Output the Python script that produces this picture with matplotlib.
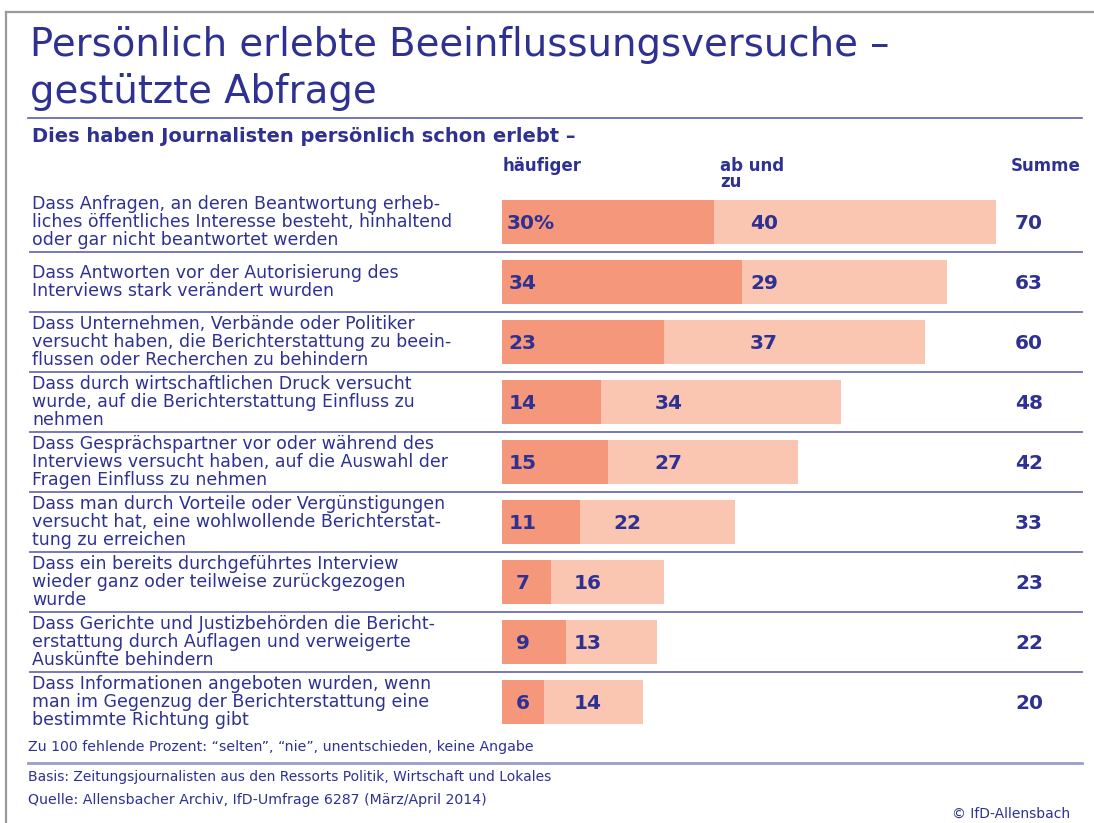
import matplotlib.pyplot as plt
from matplotlib.lines import Line2D

# data
labels = [
    "Dass Anfragen, an deren Beantwortung erheb-\nliches öffentliches Interesse besteht, hinhaltend\noder gar nicht beantwortet werden",
    "Dass Antworten vor der Autorisierung des\nInterviews stark verändert wurden",
    "Dass Unternehmen, Verbände oder Politiker\nversucht haben, die Berichterstattung zu beein-\nflussen oder Recherchen zu behindern",
    "Dass durch wirtschaftlichen Druck versucht\nwurde, auf die Berichterstattung Einfluss zu\nnehmen",
    "Dass Gesprächspartner vor oder während des\nInterviews versucht haben, auf die Auswahl der\nFragen Einfluss zu nehmen",
    "Dass man durch Vorteile oder Vergünstigungen\nversucht hat, eine wohlwollende Berichterstat-\ntung zu erreichen",
    "Dass ein bereits durchgeführtes Interview\nwieder ganz oder teilweise zurückgezogen\nwurde",
    "Dass Gerichte und Justizbehörden die Bericht-\nerstattung durch Auflagen und verweigerte\nAuskünfte behindern",
    "Dass Informationen angeboten wurden, wenn\nman im Gegenzug der Berichterstattung eine\nbestimmte Richtung gibt",
]
haeufiger = [30, 34, 23, 14, 15, 11, 7, 9, 6]
ab_und_zu = [40, 29, 37, 34, 27, 22, 16, 13, 14]
summe = [a + b for a, b in zip(haeufiger, ab_und_zu)]

# where the "ab und zu" numbers sit (layout only)
light_label_pos = [37.1, 37.1, 37.1, 23.6, 23.6, 17.7, 12.1, 12.1, 12.1]

BLUE = '#2e3192'
DARK = '#f4977a'
LIGHT = '#fac6b1'
W, H = 1094, 823

plt.rcParams['font.family'] = ['DejaVu Sans']
fig = plt.figure(figsize=(W / 100, H / 100), dpi=100)

def fx(x):
    return x / W

def fy(y):
    return 1 - y / H

# axes: x=0 at px 502, 7.057 px per percent, rows every 60 px starting at 222
px_per = (996 - 502) / 70
ax_left, ax_right = 502, 1082
ax_top, ax_bot = 192, 732
ax = fig.add_axes([fx(ax_left), fy(ax_bot), (ax_right - ax_left) / W, (ax_bot - ax_top) / H])
ax.set_xlim(0, (ax_right - ax_left) / px_per)
n = len(labels)
ax.set_ylim(n - 0.5, -0.5)
ax.axis('off')

rows = list(range(n))
ax.barh(rows, haeufiger, height=0.72, color=DARK, linewidth=0)
ax.barh(rows, ab_und_zu, left=haeufiger, height=0.72, color=LIGHT, linewidth=0)

ytr = ax.get_yaxis_transform()
label_x = (32 - ax_left) / (ax_right - ax_left)
sep_x0 = (30 - ax_left) / (ax_right - ax_left)
summe_x = (1029 - 502) / px_per
for i in rows:
    ax.text(label_x, i, labels[i], transform=ytr, ha='left', va='center',
            fontsize=12.5, color=BLUE, linespacing=1.02)
    if i == 0:
        ax.text(0.7, i + 0.03, f"{haeufiger[i]}%", ha='left', va='center', fontsize=14.5,
                fontweight='bold', color=BLUE)
    else:
        ax.text(2.9, i + 0.03, str(haeufiger[i]), ha='center', va='center', fontsize=14.5,
                fontweight='bold', color=BLUE)
    ax.text(light_label_pos[i], i + 0.03, str(ab_und_zu[i]), ha='center', va='center',
            fontsize=14.5, fontweight='bold', color=BLUE)
    ax.text(summe_x, i + 0.03, str(summe[i]), ha='center', va='center', fontsize=14.5,
            fontweight='bold', color=BLUE, clip_on=False)
    if i < n - 1:
        ax.plot([sep_x0, 1.0], [i + 0.5, i + 0.5], transform=ytr, color='#6b6db3',
                lw=1.3, clip_on=False)

# frame and rules
fig.add_artist(Line2D([fx(6), fx(6)], [fy(12), 0], color='#9a9a9a', lw=1.6))
fig.add_artist(Line2D([fx(6), 1], [fy(12), fy(12)], color='#9a9a9a', lw=1.6))
fig.add_artist(Line2D([fx(28), fx(1082)], [fy(118), fy(118)], color='#5b5eaa', lw=1.2))
fig.add_artist(Line2D([fx(28), fx(1082)], [fy(763), fy(763)], color='#9c9dc9', lw=2))

# titles
fig.text(fx(30), fy(45), "Persönlich erlebte Beeinflussungsversuche –", fontsize=27.8,
         color=BLUE, va='center', ha='left')
fig.text(fx(30), fy(92), "gestützte Abfrage", fontsize=27.8, color=BLUE, va='center', ha='left')
fig.text(fx(32), fy(137), "Dies haben Journalisten persönlich schon erlebt –", fontsize=14,
         fontweight='bold', color=BLUE, va='center', ha='left')

# column headers
fig.text(fx(503), fy(166), "häufiger", fontsize=12, fontweight='bold', color=BLUE,
         va='center', ha='left')
fig.text(fx(720), fy(174), "ab und\nzu", fontsize=12, fontweight='bold', color=BLUE,
         va='center', ha='left', linespacing=0.85)
fig.text(fx(1081), fy(166), "Summe", fontsize=12, fontweight='bold', color=BLUE,
         va='center', ha='right')

# footer
fig.text(fx(28), fy(747), "Zu 100 fehlende Prozent: \u201cselten\u201d, \u201cnie\u201d, unentschieden, keine Angabe",
         fontsize=10.2, color=BLUE, va='center', ha='left')
fig.text(fx(28), fy(777), "Basis: Zeitungsjournalisten aus den Ressorts Politik, Wirtschaft und Lokales",
         fontsize=10, color=BLUE, va='center', ha='left')
fig.text(fx(28), fy(800), "Quelle: Allensbacher Archiv, IfD-Umfrage 6287 (März/April 2014)",
         fontsize=10.2, color=BLUE, va='center', ha='left')
fig.text(fx(1070), fy(814), "© IfD-Allensbach", fontsize=10, color=BLUE, va='center', ha='right')

fig.savefig('out.png', dpi=100, facecolor='white')
